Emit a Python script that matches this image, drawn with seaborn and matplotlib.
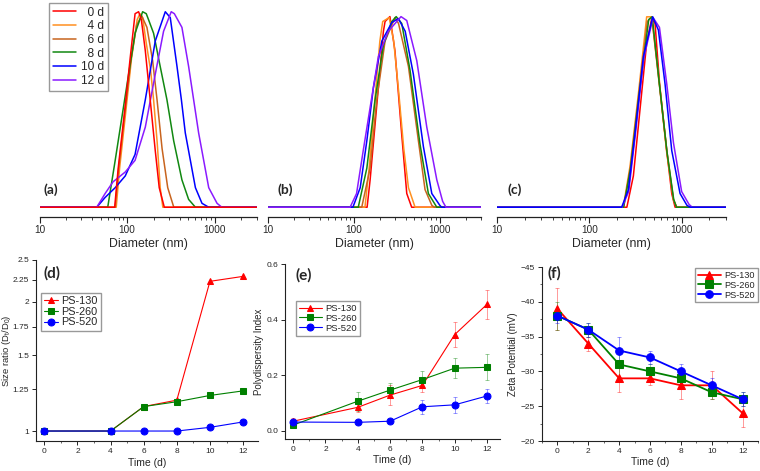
import numpy as np
import pandas as pd
import matplotlib
matplotlib.use('Agg')
import matplotlib.pyplot as plt
import seaborn as sns
from matplotlib.ticker import LogLocator, NullFormatter, NullLocator, FixedLocator, AutoMinorLocator

sns.set_style('ticks')
plt.rcParams['font.family'] = ['Liberation Sans', 'DejaVu Sans']

# ===== size distributions (diameter nm, relative intensity)
day_labels = ['  0 d', '  4 d', '  6 d', '  8 d', '10 d', '12 d']
day_colors = ['#FF0000', '#FF9020', '#C8641E', '#118811', '#0000FF', '#8A1AFF']

# (a) PS-130
a_0d = [(10, 0), (72, 0), (79, 0.2), (95, 0.52), (108, 0.76), (123, 0.99), (135, 1.0), (145, 0.96),
        (161, 0.8), (183, 0.55), (209, 0.29), (232, 0.1), (265, 0), (3000, 0)]
a_4d = [(10, 0), (75, 0), (82, 0.2), (97, 0.5), (112, 0.76), (130, 0.96), (140, 0.99), (150, 0.97),
        (165, 0.84), (185, 0.7), (200, 0.55), (220, 0.33), (238, 0.1), (255, 0), (3000, 0)]
a_6d = [(10, 0), (73, 0), (80, 0.2), (95, 0.5), (110, 0.75), (128, 0.93), (146, 0.98), (168, 0.92),
        (195, 0.75), (219, 0.55), (250, 0.3), (290, 0.1), (340, 0), (3000, 0)]
a_8d = [(10, 0), (60, 0), (73, 0.24), (95, 0.57), (123, 0.89), (150, 1.0), (165, 0.99), (175, 0.96),
        (200, 0.89), (238, 0.72), (284, 0.55), (339, 0.34), (421, 0.14), (502, 0.04), (600, 0), (3000, 0)]
a_10d = [(10, 0), (45, 0), (56, 0.05), (73, 0.1), (95, 0.16), (123, 0.27), (161, 0.55), (209, 0.85),
         (272, 1.0), (310, 0.97), (370, 0.72), (415, 0.55), (460, 0.38), (600, 0.1), (713, 0.02),
         (850, 0), (3000, 0)]
a_12d = [(10, 0), (45, 0), (56, 0.07), (69, 0.13), (95, 0.18), (123, 0.24), (161, 0.41), (209, 0.68),
         (260, 0.9), (318, 1.0), (345, 0.99), (421, 0.92), (502, 0.72), (653, 0.38), (851, 0.1),
         (1059, 0.02), (1200, 0), (3000, 0)]

# (b) PS-260
b_0d = [(10, 0), (142, 0), (154, 0.14), (184, 0.52), (220, 0.9), (230, 0.95), (262, 0.975), (300, 0.8),
        (360, 0.37), (412, 0.07), (470, 0), (3000, 0)]
b_4d = [(10, 0), (134, 0), (150, 0.2), (175, 0.55), (200, 0.85), (216, 0.95), (257, 0.97), (290, 0.85),
        (330, 0.6), (380, 0.3), (431, 0.1), (515, 0), (3000, 0)]
b_6d = [(10, 0), (123, 0), (154, 0.2), (184, 0.55), (230, 0.85), (300, 0.97), (330, 0.94), (431, 0.72),
        (563, 0.34), (673, 0.09), (807, 0.01), (860, 0), (3000, 0)]
b_8d = [(10, 0), (112, 0), (141, 0.2), (176, 0.55), (220, 0.83), (276, 0.95), (310, 0.975), (360, 0.94),
        (450, 0.7), (589, 0.32), (736, 0.07), (923, 0), (3000, 0)]
b_10d = [(10, 0), (97, 0), (118, 0.1), (141, 0.34), (168, 0.61), (211, 0.85), (276, 0.945), (329, 0.965),
         (395, 0.9), (492, 0.68), (644, 0.31), (807, 0.07), (1000, 0.01), (1050, 0), (3000, 0)]
b_12d = [(10, 0), (90, 0), (107, 0.07), (128, 0.29), (154, 0.51), (192, 0.77), (251, 0.9), (353, 0.975),
         (412, 0.955), (539, 0.75), (705, 0.41), (923, 0.14), (1080, 0.03), (1180, 0), (3000, 0)]

# (c) PS-520
c_0d = [(10, 0), (255, 0), (300, 0.16), (354, 0.5), (418, 0.84), (474, 0.966), (515, 0.94), (577, 0.63),
        (689, 0.29), (781, 0.07), (849, 0), (3000, 0)]
c_4d = [(10, 0), (233, 0), (276, 0.21), (340, 0.58), (418, 0.974), (474, 0.974), (560, 0.68), (689, 0.28),
        (813, 0.04), (885, 0), (3000, 0)]
c_6d = [(10, 0), (235, 0), (278, 0.2), (342, 0.57), (425, 0.95), (475, 0.974), (560, 0.67), (690, 0.29),
        (815, 0.04), (880, 0), (3000, 0)]
c_8d = [(10, 0), (235, 0), (280, 0.2), (345, 0.57), (440, 0.96), (480, 0.974), (565, 0.66), (695, 0.28),
        (820, 0.04), (880, 0), (3000, 0)]
c_10d = [(10, 0), (224, 0), (265, 0.09), (313, 0.38), (385, 0.77), (486, 0.974), (560, 0.906), (661, 0.63),
         (781, 0.29), (961, 0.07), (1140, 0.01), (1234, 0), (3000, 0)]
c_12d = [(10, 0), (226, 0), (267, 0.08), (315, 0.37), (388, 0.76), (490, 0.97), (575, 0.92), (690, 0.63),
         (815, 0.33), (1000, 0.08), (1200, 0.015), (1300, 0), (3000, 0)]

# ===== stability over time
series_labels = ['PS-130', 'PS-260', 'PS-520']
series_colors = ['#FF0000', '#008000', '#0000FF']
series_markers = ['^', 's', 'o']

time_d = [0, 4, 6, 8, 10, 12]
ratio_130 = [1.0, 1.0, 1.14, 1.18, 2.23, 2.29]
ratio_260 = [1.0, 1.0, 1.14, 1.17, 1.21, 1.24]
ratio_520 = [1.0, 1.0, 1.0, 1.0, 1.02, 1.05]

pdi_130 = [0.034, 0.084, 0.128, 0.163, 0.346, 0.455]
pdi_130_err = [0.01, 0.015, 0.035, 0.025, 0.045, 0.053]
pdi_260 = [0.020, 0.106, 0.146, 0.184, 0.225, 0.228]
pdi_260_err = [0.005, 0.035, 0.025, 0.03, 0.036, 0.047]
pdi_520 = [0.031, 0.030, 0.034, 0.086, 0.093, 0.125]
pdi_520_err = [0.005, 0.004, 0.005, 0.025, 0.03, 0.025]

time_zeta = [0, 2, 4, 6, 8, 10, 12]
zeta_130 = [-39, -34, -29, -29, -28, -28, -24]
zeta_130_err = [3, 1, 2, 1, 2, 2, 2]
zeta_260 = [-38, -36, -31, -30, -29, -27, -26]
zeta_260_err = [2, 1, 2, 1, 1, 1, 1]
zeta_520 = [-38, -36, -33, -32, -30, -28, -26]
zeta_520_err = [1, 1, 2, 1, 1, 1, 1]

W, H = 760, 471
fig = plt.figure(figsize=(7.6, 4.71), dpi=100)


def px_axes(left, top, right, bottom):
    return fig.add_axes([left / W, 1 - bottom / H, (right - left) / W, (bottom - top) / H])


def dist_panel(ax, curves, top_idx):
    order = [i for i in range(6) if i != top_idx] + [top_idx]
    for i in order:
        df = pd.DataFrame(curves[i], columns=['diameter', 'intensity'])
        sns.lineplot(data=df, x='diameter', y='intensity', color=day_colors[i], lw=1.1,
                     estimator=None, sort=False, ax=ax, label=day_labels[i], zorder=2 + (i == top_idx))
    ax.set_xscale('log')
    ax.set_xlim(10, 3000)
    ax.set_ylim(-0.05, 1.06)
    for s in ['left', 'right', 'top']:
        ax.spines[s].set_visible(False)
    ax.spines['bottom'].set_color('#222222')
    ax.spines['bottom'].set_linewidth(0.9)
    ax.set_yticks([])
    ax.xaxis.set_major_locator(FixedLocator([10, 100, 1000]))
    ax.set_xticklabels(['10', '100', '1000'])
    ax.xaxis.set_minor_locator(LogLocator(base=10, subs=np.arange(2, 10)))
    ax.xaxis.set_minor_formatter(NullFormatter())
    ax.tick_params(axis='x', which='major', direction='out', length=4, width=0.8, labelsize=7.2, pad=2,
                   color='#222222')
    ax.tick_params(axis='x', which='minor', direction='out', length=2.2, width=0.6, color='#222222')
    ax.set_xlabel('Diameter (nm)', fontsize=8.8)
    ax.xaxis.set_label_coords(0.5, -0.095)
    ax.set_ylabel('')
    ax.patch.set_alpha(0)


ax_a = px_axes(39.5, 0, 256.7, 217)
ax_b = px_axes(268.3, 0, 480.7, 217)
ax_c = px_axes(497, 0, 725.7, 217)
dist_panel(ax_a, [a_0d, a_4d, a_6d, a_8d, a_10d, a_12d], 0)
dist_panel(ax_b, [b_0d, b_4d, b_6d, b_8d, b_10d, b_12d], 5)
dist_panel(ax_c, [c_0d, c_4d, c_6d, c_8d, c_10d, c_12d], 4)

handles, labels = ax_a.get_legend_handles_labels()
order = [labels.index(l) for l in day_labels]
ax_a.legend([handles[k] for k in order], day_labels, loc='upper left',
            bbox_to_anchor=(49 / W, 1 - 3 / H), bbox_transform=fig.transFigure,
            fontsize=8.6, handlelength=2.0, handletextpad=0.4, labelspacing=0.14,
            borderpad=0.3, borderaxespad=0, frameon=True, fancybox=False,
            edgecolor='#999999', framealpha=1)
ax_b.get_legend().remove()
ax_c.get_legend().remove()


def time_axes(ax, xlim, label_y, ylab, ylab_x, ylab_size):
    sns.despine(ax=ax)
    ax.set_xlim(*xlim)
    ax.set_xticks([0, 2, 4, 6, 8, 10, 12])
    ax.xaxis.set_minor_locator(AutoMinorLocator(2))
    ax.tick_params(which='major', direction='out', length=3, width=0.7, labelsize=6, pad=2)
    ax.tick_params(which='minor', direction='out', length=1.5, width=0.5)
    for s in ['left', 'bottom']:
        ax.spines[s].set_linewidth(0.8)
        ax.spines[s].set_color('#222222')
    ax.set_xlabel('Time (d)', fontsize=7.5)
    ax.xaxis.set_label_coords(0.5, label_y)
    ax.set_ylabel(ylab, fontsize=ylab_size)
    ax.yaxis.set_label_coords(ylab_x, 0.5)


def series(ax, t, vals, errs, lw, ms, cap):
    for k in range(3):
        if errs is not None:
            ax.errorbar(t, vals[k], yerr=errs[k], fmt='none', ecolor=series_colors[k], elinewidth=0.7,
                        capsize=cap, capthick=0.7, alpha=0.4, zorder=1)
        sns.lineplot(x=t, y=vals[k], color=series_colors[k], marker=series_markers[k], markersize=ms,
                     markeredgecolor=series_colors[k], lw=lw, label=series_labels[k], ax=ax, zorder=3)


# (d) size ratio
ax_d = px_axes(36, 260, 258, 441)
series(ax_d, time_d, [ratio_130, ratio_260, ratio_520], None, 0.8, 5, 0)
ax_d.set_yscale('log')
ax_d.set_ylim(0.948, 2.5)
ax_d.yaxis.set_major_locator(FixedLocator([1, 1.25, 1.5, 1.75, 2, 2.25, 2.5]))
ax_d.set_yticklabels(['1', '1.25', '1.5', '1.75', '2', '2.25', '2.5'])
ax_d.yaxis.set_minor_locator(NullLocator())
time_axes(ax_d, (-0.5, 12.9), -0.094, 'Size ratio (D$_\\mathregular{t}$/D$_\\mathregular{0}$)', -0.102, 6.8)
ax_d.legend(loc='upper left', bbox_to_anchor=(41 / W, 1 - 293 / H), bbox_transform=fig.transFigure,
            fontsize=7.8, handlelength=1.3, handletextpad=0.3, labelspacing=0.05, borderpad=0.3,
            borderaxespad=0, fancybox=False, edgecolor='#999999', framealpha=1)

# (e) polydispersity index
ax_e = px_axes(285, 264, 500, 439)
series(ax_e, time_d, [pdi_130, pdi_260, pdi_520], [pdi_130_err, pdi_260_err, pdi_520_err], 0.8, 5, 1.5)
ax_e.set_ylim(-0.03, 0.6)
ax_e.set_yticks([0.0, 0.2, 0.4, 0.6])
ax_e.set_yticklabels(['0.0', '0.2', '0.4', '0.6'])
time_axes(ax_e, (-0.5, 12.8), -0.091, 'Polydispersity Index', -0.10, 7)
ax_e.legend(loc='upper left', bbox_to_anchor=(296 / W, 1 - 301 / H), bbox_transform=fig.transFigure,
            fontsize=6.8, handlelength=2.4, handletextpad=0.4, labelspacing=0.1, borderpad=0.3,
            borderaxespad=0, fancybox=False, edgecolor='#999999', framealpha=1)

# (f) zeta potential
ax_f = px_axes(542, 267, 758, 441)
series(ax_f, time_zeta, [zeta_130, zeta_260, zeta_520], [zeta_130_err, zeta_260_err, zeta_520_err],
       1.3, 5.5, 1.5)
ax_f.set_ylim(-20, -45)
ax_f.set_yticks([-45, -40, -35, -30, -25, -20])
ax_f.yaxis.set_minor_locator(AutoMinorLocator(2))
time_axes(ax_f, (-1, 13), -0.092, 'Zeta Potential (mV)', -0.11, 7)
ax_f.legend(loc='upper left', bbox_to_anchor=(695 / W, 1 - 268 / H), bbox_transform=fig.transFigure,
            fontsize=6.6, handlelength=2.5, handletextpad=0.4, labelspacing=0.1, borderpad=0.3,
            borderaxespad=0, fancybox=False, edgecolor='#999999', framealpha=1)

# panel letters
for txt, x, y, fs in [('(a)', 43, 183, 10), ('(b)', 277, 183, 10), ('(c)', 507, 183, 10),
                      ('(d)', 43, 266, 11), ('(e)', 295, 268, 11), ('(f)', 547, 266, 11)]:
    fig.text(x / W, 1 - y / H, txt, fontsize=fs, fontweight='bold', family=['Lato', 'DejaVu Sans'],
             ha='left', va='top')

fig.savefig('out.png', dpi=100)
